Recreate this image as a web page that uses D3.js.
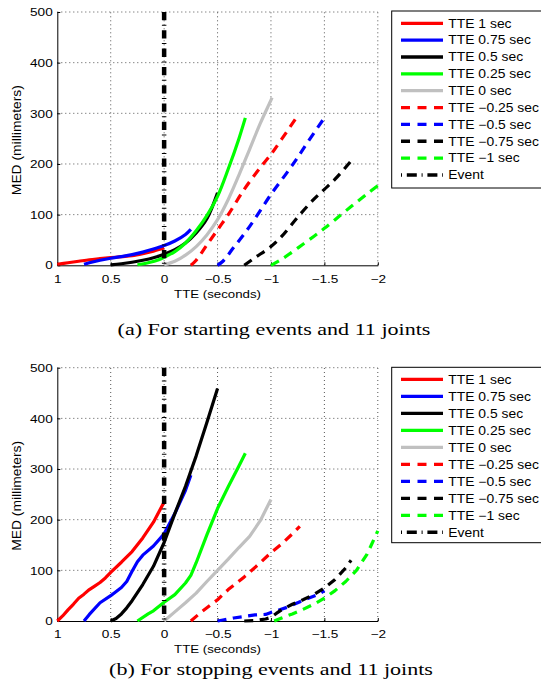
<!DOCTYPE html>
<html><head><meta charset="utf-8">
<script src="https://cdn.jsdelivr.net/npm/d3@7"></script>
<style>
body{margin:0;background:#fff;}
svg{display:block;}
text{font-family:"Liberation Sans",Arial,sans-serif;fill:#000;}
</style></head><body><svg id="c" width="541" height="696"></svg>
<script>
// ---- tick values / labels ----
const xTicks = [1, 0.5, 0, -0.5, -1, -1.5, -2];
const yTicks = [0, 100, 200, 300, 400, 500];
const legendLabels = ["TTE 1 sec","TTE 0.75 sec","TTE 0.5 sec","TTE 0.25 sec","TTE 0 sec",
  "TTE \u22120.25 sec","TTE \u22120.5 sec","TTE \u22120.75 sec","TTE \u22121 sec","Event"];
const captionA = "(a) For starting events and 11 joints";
const captionB = "(b) For stopping events and 11 joints";
const xLabel = "TTE (seconds)";
const yLabel = "MED (millimeters)";
const eventTTE = 0;

// ---- (a) starting events : [TTE, MED] ----
const startTTE1    = [[1,2],[0.9,5],[0.8,8],[0.7,11],[0.6,13],[0.5,15],[0.4,17],[0.3,19],[0.2,23],[0.1,28],[0,34]];
const startTTE075  = [[0.75,2],[0.7,5],[0.6,10],[0.5,14],[0.4,17],[0.3,21],[0.2,26],[0.1,32],[0,39],[-0.1,48],[-0.2,61],[-0.25,71]];
const startTTE05   = [[0.5,1],[0.4,3],[0.3,6],[0.2,10],[0.1,15],[0,22],[-0.1,31],[-0.2,44],[-0.3,64],[-0.4,92],[-0.5,143]];
const startTTE025  = [[0.25,1],[0.15,5],[0.05,11],[0,16],[-0.1,27],[-0.2,44],[-0.3,68],[-0.4,98],[-0.5,136],[-0.6,190],[-0.7,250],[-0.76,291]];
const startTTE0    = [[0,1],[-0.1,8],[-0.2,20],[-0.3,37],[-0.4,60],[-0.5,90],[-0.6,130],[-0.7,178],[-0.8,229],[-0.9,280],[-1.0,326],[-1.01,331]];
const startTTEm025 = [[-0.25,0],[-0.3,10],[-0.4,40],[-0.5,70],[-0.6,100],[-0.75,150],[-0.9,193],[-1,219],[-1.1,249],[-1.24,292]];
const startTTEm05  = [[-0.5,0],[-0.55,8],[-0.65,35],[-0.75,62],[-0.85,92],[-1,140],[-1.15,183],[-1.25,213],[-1.35,245],[-1.5,291]];
const startTTEm075 = [[-0.75,0],[-0.85,15],[-1,37],[-1.1,57],[-1.25,95],[-1.4,130],[-1.5,150],[-1.6,170],[-1.75,206]];
const startTTEm1   = [[-1,0],[-1.1,12],[-1.25,34],[-1.4,57],[-1.5,73],[-1.6,90],[-1.75,116],[-1.9,141],[-2,157]];

// ---- (b) stopping events : [TTE, MED] ----
const stopTTE1    = [[1,0],[0.95,10],[0.9,22],[0.85,33],[0.8,45],[0.75,53],[0.7,62],[0.65,69],[0.6,76],[0.55,85],[0.5,96],[0.4,116],[0.3,137],[0.2,164],[0.1,195],[0,235]];
const stopTTE075  = [[0.75,0],[0.7,13],[0.6,36],[0.5,50],[0.4,66],[0.35,78],[0.3,98],[0.25,117],[0.2,130],[0.1,148],[0,172],[-0.1,212],[-0.2,258],[-0.25,288]];
const stopTTE05   = [[0.5,0],[0.45,5],[0.4,14],[0.35,26],[0.3,40],[0.2,72],[0.1,108],[0,155],[-0.1,212],[-0.2,266],[-0.3,326],[-0.4,392],[-0.5,459]];
const stopTTE025  = [[0.25,0],[0.15,14],[0.1,20],[0,37],[-0.1,52],[-0.2,75],[-0.25,90],[-0.3,115],[-0.4,170],[-0.5,222],[-0.6,265],[-0.7,306],[-0.76,331]];
const stopTTE0    = [[0,0],[-0.1,18],[-0.2,36],[-0.3,55],[-0.4,78],[-0.5,100],[-0.6,122],[-0.7,145],[-0.8,167],[-0.9,198],[-1,240]];
const stopTTEm025 = [[-0.25,0],[-0.35,18],[-0.5,42],[-0.6,62],[-0.75,87],[-0.9,115],[-1,135],[-1.1,152],[-1.2,172],[-1.27,187]];
const stopTTEm05  = [[-0.5,0],[-0.55,2],[-0.65,6],[-0.75,9],[-0.85,12],[-0.95,13],[-1,17],[-1.05,20],[-1.15,27],[-1.25,36],[-1.35,45],[-1.45,53],[-1.5,60]];
const stopTTEm075 = [[-0.75,0],[-0.85,1],[-0.95,4],[-1,7],[-1.05,15],[-1.1,22],[-1.2,33],[-1.3,42],[-1.4,52],[-1.5,65],[-1.6,82],[-1.7,105],[-1.75,120]];
const stopTTEm1   = [[-1.03,0],[-1.1,6],[-1.2,14],[-1.3,23],[-1.4,33],[-1.5,45],[-1.6,60],[-1.7,78],[-1.8,100],[-1.9,132],[-2,178]];

const startSeries = [startTTE1,startTTE075,startTTE05,startTTE025,startTTE0,startTTEm025,startTTEm05,startTTEm075,startTTEm1];
const stopSeries  = [stopTTE1,stopTTE075,stopTTE05,stopTTE025,stopTTE0,stopTTEm025,stopTTEm05,stopTTEm075,stopTTEm1];

// ---- styles ----
const colors = ["#ff0000","#0000ff","#000000","#00ff00","#c0c0c0","#ff0000","#0000ff","#000000","#00ff00"];
const dashed = [false,false,false,false,false,true,true,true,true];

const svg = d3.select("#c");
const X0 = 57.3, X1 = 377.8;
const x = d3.scaleLinear().domain([1,-2]).range([X0,X1]);
const fmt = v => v === 0 ? "0" : d3.format("")(v).replace("-", "\u2212");

// measure natural text width to derive horizontal stretch
function measure(str, size, family) {
  const t = svg.append("text").style("font-size", size + "px")
    .style("font-family", family || null).text(str);
  const w = t.node().getComputedTextLength();
  t.remove();
  return w;
}
const tickSize = 10.5, legSize = 12, xlSize = 11, capSize = 17.5;
const serif = "'Liberation Serif','Times New Roman',serif";
const tickSx = 22.7 / measure("500", tickSize);
const legSx  = 63.3 / measure("TTE 1 sec", legSize);
const xlSx   = 87 / measure(xLabel, xlSize);
const capSx  = 313 / measure(captionA, capSize, serif);

const panels = [
  {top:12, bottom:265.3, data:startSeries, smooth:true, caption:captionA, capX:274, capY:335,
   lgTop:11, lgH:177, rowStart:23.3, rowStep:16.85},
  {top:367.7, bottom:621, data:stopSeries, smooth:false, caption:captionB, capX:271, capY:675,
   lgTop:367.3, lgH:175.4, rowStart:379.3, rowStep:17.0}
];

panels.forEach(p => {
  const y = d3.scaleLinear().domain([0,500]).range([p.bottom,p.top]);
  const g = svg.append("g");
  // grid
  g.append("g").selectAll("line").data(xTicks.filter(v=>v!==1)).join("line")
    .attr("x1",d=>x(d)).attr("x2",d=>x(d)).attr("y1",p.bottom).attr("y2",p.top)
    .attr("stroke","#555").attr("stroke-width",1).attr("stroke-dasharray","1,3");
  g.append("g").selectAll("line").data(yTicks.filter(v=>v!==0)).join("line")
    .attr("x1",X0).attr("x2",X1).attr("y1",d=>y(d)).attr("y2",d=>y(d))
    .attr("stroke","#555").attr("stroke-width",1).attr("stroke-dasharray","1,3");
  // axes
  const xa = g.append("g").attr("transform",`translate(0,${p.bottom})`)
    .call(d3.axisBottom(x).tickValues(xTicks).tickFormat(fmt).tickSizeInner(-3).tickSizeOuter(0));
  xa.attr("font-family",null).attr("font-size",null);
  xa.select(".domain").attr("stroke","#000");
  xa.selectAll(".tick text").attr("x",0).attr("y",0).attr("dy","0.35em")
    .attr("transform",`translate(0,13.7) scale(${tickSx},1)`).style("font-size",tickSize+"px");
  const ya = g.append("g").attr("transform",`translate(${X0},0)`)
    .call(d3.axisLeft(y).tickValues(yTicks).tickFormat(d3.format("d")).tickSizeInner(-3).tickSizeOuter(0));
  ya.attr("font-family",null).attr("font-size",null);
  ya.selectAll(".tick text").attr("x",0).attr("dy","0.35em")
    .attr("transform",`translate(-4.6,0) scale(${tickSx},1)`).style("font-size",tickSize+"px");
  // labels
  g.append("text").attr("transform",`translate(${(X0+X1)/2},${p.bottom+32.3}) scale(${xlSx},1)`)
    .attr("text-anchor","middle").style("font-size",xlSize+"px").text(xLabel);
  g.append("text").attr("transform",`translate(16.5,${(p.top+p.bottom)/2+1.5}) rotate(-90)`)
    .attr("text-anchor","middle").attr("dy","0.35em").style("font-size","13.5px")
    .attr("textLength",110).attr("lengthAdjust","spacingAndGlyphs").text(yLabel);
  // series
  const line = d3.line().x(d=>x(d[0])).y(d=>y(d[1]))
    .curve(p.smooth ? d3.curveCatmullRom.alpha(0.5) : d3.curveLinear);
  p.data.forEach((s,i) => {
    g.append("path").attr("d",line(s)).attr("fill","none")
      .attr("stroke",colors[i]).attr("stroke-width",3.2)
      .attr("stroke-linejoin","round")
      .attr("stroke-dasharray",dashed[i] ? "9,6.5" : null);
  });
  // event line (drawn from top)
  g.append("path").attr("d",d3.line()([[x(eventTTE),y(500)],[x(eventTTE),y(0)]]))
    .attr("stroke","#000").attr("stroke-width",4.5).attr("fill","none")
    .attr("stroke-dasharray","8.3,4.5,1,4.5");
  // legend
  const lg = g.append("g");
  lg.append("rect").attr("x",391.7).attr("y",p.lgTop).attr("width",160).attr("height",p.lgH)
    .attr("fill","#fff").attr("stroke","#000").attr("stroke-width",1);
  legendLabels.forEach((lab,i) => {
    const cy = p.rowStart + i*p.rowStep;
    const l = lg.append("path").attr("d",`M401,${cy}H443`).attr("fill","none");
    if (i < 9) {
      l.attr("stroke",colors[i]).attr("stroke-width",3.3)
       .attr("stroke-dasharray",dashed[i] ? "9,7.5" : null);
    } else {
      l.attr("stroke","#000").attr("stroke-width",3.5)
       .attr("stroke-dasharray","10,4.8,1,4.8").attr("stroke-dashoffset",14.8);
    }
    lg.append("text").attr("transform",`translate(448.3,${cy}) scale(${legSx},1)`)
      .attr("dy","0.36em").style("font-size",legSize+"px").text(lab);
  });
  // caption
  svg.append("text").attr("transform",`translate(${p.capX},${p.capY}) scale(${capSx},1)`)
    .attr("text-anchor","middle").style("font-family",serif)
    .style("font-size",capSize+"px").text(p.caption);
});
</script></body></html>
